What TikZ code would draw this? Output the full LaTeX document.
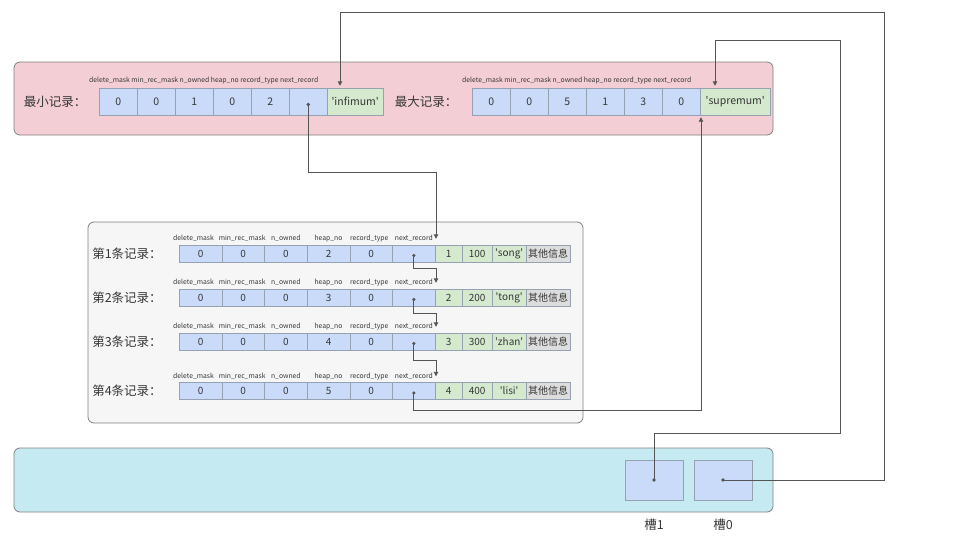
\documentclass[tikz,border=0pt]{standalone}
\usepackage{fontspec}
\setmainfont{Noto Sans CJK SC}
\usetikzlibrary{calc,arrows.meta,positioning}
\definecolor{recPink}{RGB}{243,206,213}
\definecolor{cellBlue}{RGB}{201,219,248}
\definecolor{cellGreen}{RGB}{213,233,207}
\definecolor{cellGray}{RGB}{221,221,221}
\definecolor{cellLine}{RGB}{150,162,178}
\definecolor{boxGray}{RGB}{246,246,246}
\definecolor{slotCyan}{RGB}{198,234,242}
\definecolor{panelLine}{RGB}{128,128,128}
\definecolor{lineGray}{RGB}{85,85,85}
\definecolor{txtGray}{RGB}{55,55,55}

\begin{document}
\begin{tikzpicture}[x=1pt,y=-1pt,
    cell/.style={draw=cellLine, fill=cellBlue, inner sep=0pt, anchor=west, text=txtGray},
    topcell/.style={cell, minimum width=38pt, minimum height=27pt, font=\fontsize{10.5}{11}\selectfont},
    rowcell/.style={cell, minimum height=17pt, font=\fontsize{10}{11}\selectfont},
    head/.style={inner sep=0pt, text height=5pt, text depth=1.5pt, text=txtGray,
                 font=\fontsize{6.8}{7}\selectfont},
    title/.style={text=txtGray, font=\fontsize{12.5}{13}\selectfont},
    panel/.style={draw=panelLine, line width=0.8pt, rounded corners=6pt},
    link/.style={lineGray, line width=0.9pt, -{Triangle[width=4.5pt,length=4.5pt]}}]
    \useasboundingbox (0,0) rectangle (960,543);

    % panels
    \draw[panel, fill=recPink] (14,62) rectangle (773,135);
    \draw[panel, fill=boxGray] (88,222) rectangle (583,423);
    \draw[panel, fill=slotCyan] (14,448) rectangle (773,512);

    % infimum record
    \node[title] (minlab) at (55,101.5) {最小记录：};
    \node[head, anchor=west] (minhead) at (89,81)
        {delete\_mask min\_rec\_mask n\_owned heap\_no record\_type next\_record};
    \foreach \v [count=\i] in {0,0,1,0,2,{}}
        \node[topcell] (min\i) at ({99+38*(\i-1)},101.5) {\v};
    \node[topcell, fill=cellGreen, minimum width=56pt] (inf) at (327,101.5)
        {\textquotesingle infimum\textquotesingle};

    % supremum record
    \node[title] (maxlab) at (426,101.5) {最大记录：};
    \node[head, anchor=west] (maxhead) at (462,81)
        {delete\_mask min\_rec\_mask n\_owned heap\_no record\_type next\_record};
    \foreach \v [count=\i] in {0,0,5,1,3,0}
        \node[topcell] (max\i) at ({472+38*(\i-1)},101.5) {\v};
    \node[topcell, fill=cellGreen, minimum width=70pt] (sup) at (700,101.5)
        {\textquotesingle supremum\textquotesingle};

    \coordinate (mindot) at ($(min6.center)+(0,3)$);
    \fill[lineGray] (mindot) circle (1.8pt);
    \coordinate (infin) at ($(inf.north west)+(13,-2)$);
    \coordinate (supin) at ($(sup.north west)+(15,-2)$);
    \coordinate (supup) at ($(sup.south west)+(1,2)$);

    % user records
    \foreach \row/\y/\hp/\num/\nm in {1/253.5/2/100/song, 2/297.5/3/200/tong,
                                      3/341.5/4/300/zhan, 4/391/5/400/lisi} {
        \node[title] (lab\row) at (127,\y) {第\row 条记录：};
        \foreach \v/\h/\dx [count=\i] in {0/delete\_mask/-7, 0/min\_rec\_mask/-1, 0/n\_owned/0,
                                      \hp/heap\_no/0, 0/record\_type/-2, {}/next\_record/0} {
            \node[rowcell, minimum width=42.67pt] (r\row-\i) at ({179+42.67*(\i-1)},\y) {\v};
            \node[head, above=2.5pt of r\row-\i, xshift=\dx pt] (h\row-\i) {\h};
        }
        \node[rowcell, fill=cellGreen, minimum width=27pt] (id\row) at (435,\y) {\row};
        \node[rowcell, fill=cellGreen, minimum width=30pt] (num\row) at (462,\y) {\num};
        \node[rowcell, fill=cellGreen, minimum width=34pt] (nm\row) at (492,\y)
            {\textquotesingle\nm\textquotesingle};
        \node[rowcell, fill=cellGray, minimum width=44pt] (oth\row) at (526,\y) {其他信息};
        \coordinate (in\row) at ($(id\row.north west)+(1,-6)$);
        \coordinate (dot\row) at ($(r\row-6.center)+(0,2)$);
        \fill[lineGray] (dot\row) circle (1.8pt);
    }

    % slots
    \node[draw=cellLine, fill=cellBlue, minimum width=58pt, minimum height=40pt] (slot1) at (654,480) {};
    \node[draw=cellLine, fill=cellBlue, minimum width=58pt, minimum height=40pt] (slot0) at (723,480) {};
    \node[title, below=15pt of slot1] (s1lab) {槽1};
    \node[title, below=15pt of slot0] (s0lab) {槽0};
    \fill[lineGray] (slot1.center) circle (1.8pt);
    \fill[lineGray] (slot0.center) circle (1.8pt);

    % next_record chain
    \draw[link] (mindot) -- ++(0,68) -| (in1);
    \foreach \a/\b/\d in {1/2/13, 2/3/14, 3/4/17}
        \draw[link] (dot\a) -- ++(0,\d) -| (in\b);
    \draw[link] (dot4) -- ++(0,17) -| (supup);

    % slot pointers
    \coordinate (far0) at (884,12);
    \coordinate (far1a) at (840,433);
    \coordinate (far1b) at (840,40);
    \draw[link] (slot0.center) -| (far0) -| (infin);
    \draw[link] (slot1.center) |- (far1a) -- (far1b) -| (supin);
\end{tikzpicture}
\end{document}
